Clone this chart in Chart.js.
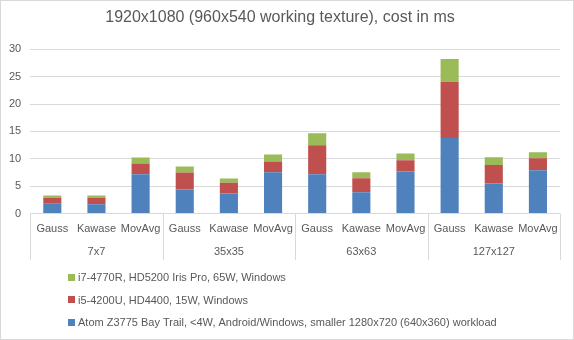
<!DOCTYPE html>
<html>
<head>
<meta charset="utf-8">
<script src="https://cdn.jsdelivr.net/npm/chart.js@4/dist/chart.umd.min.js"></script>
<style>
body { margin: 0; background: #fff; }
#wrap { width: 574px; height: 340px; position: relative; }
</style>
</head>
<body>
<div id="wrap"><canvas id="costChart"></canvas></div>
<script>
// values, ms per frame
const methods = ['Gauss', 'Kawase', 'MovAvg'];
const kernels = ['7x7', '35x35', '63x63', '127x127'];
const atomMs = [1.8, 1.7, 7.2, 4.4, 3.65, 7.55, 7.2, 3.9, 7.7, 13.8, 5.5, 7.9];
const i5Ms = [1.1, 1.2, 1.95, 3.1, 2.0, 1.95, 5.25, 2.55, 2.05, 10.25, 3.35, 2.2];
const i7Ms = [0.4, 0.4, 1.1, 1.1, 0.75, 1.3, 2.2, 1.1, 1.2, 4.15, 1.45, 1.1];
const seriesNames = [
    'Atom Z3775 Bay Trail, <4W, Android/Windows, smaller 1280x720 (640x360) workload',
    'i5-4200U, HD4400, 15W, Windows',
    'i7-4770R, HD5200 Iris Pro, 65W, Windows'
];
const yMax = 30;
const yStep = 5;

const GREY = '#595959';
const GRID = '#d9d9d9';
const FONT = 'Liberation Sans, Arial, sans-serif';

var labels = [];
kernels.forEach(function(k) {
    methods.forEach(function(m) { labels.push(m); });
});

// frame, group separators and the vertical legend
const decor = {
    id: 'decor',
    beforeDraw(chart) {
        const c = chart.ctx;
        c.save();
        c.fillStyle = '#fff';
        c.fillRect(0, 0, chart.width, chart.height);
        c.strokeStyle = GRID;
        c.lineWidth = 1;
        c.strokeRect(0.5, 0.5, chart.width - 1, chart.height - 1);
        c.restore();
    },
    afterDraw(chart) {
        const c = chart.ctx;
        const x = chart.scales.x;
        const x2 = chart.scales.x2;
        c.save();
        c.strokeStyle = GRID;
        c.lineWidth = 1;
        for (let k = 0; k <= kernels.length; k++) {
            var px;
            if (k == 0) px = x.left;
            else if (k == kernels.length) px = x.right;
            else px = (x.getPixelForTick(k * 3 - 1) + x.getPixelForTick(k * 3)) / 2;
            px = Math.round(px) + 0.5;
            c.beginPath();
            c.moveTo(px, chart.chartArea.bottom);
            c.lineTo(px, x2.bottom);
            c.stroke();
        }
        // legend, reversed like Excel
        c.font = '11px ' + FONT;
        c.textBaseline = 'middle';
        const sets = chart.data.datasets.slice().reverse();
        sets.forEach(function(ds, i) {
            const y = x2.bottom + 18 + i * 22.5;
            c.fillStyle = ds.backgroundColor;
            c.fillRect(68, Math.round(y) - 4, 7, 7);
            c.fillStyle = GREY;
            c.fillText(ds.label, 78, y);
        });
        c.restore();
    }
};

const ctx = document.getElementById('costChart').getContext('2d');
const chart = new Chart(ctx, {
    type: 'bar',
    data: {
        labels: labels,
        datasets: [
            { label: seriesNames[0], data: atomMs, backgroundColor: '#4f81bd' },
            { label: seriesNames[1], data: i5Ms, backgroundColor: '#c0504d' },
            { label: seriesNames[2], data: i7Ms, backgroundColor: '#9bbb59' }
        ]
    },
    options: {
        responsive: true,
        maintainAspectRatio: false,
        animation: false,
        devicePixelRatio: 1,
        datasets: { bar: { categoryPercentage: 1, barPercentage: 0.41 } },
        layout: { padding: { left: 0, right: 14, top: 0, bottom: 80 } },
        plugins: {
            legend: { display: false },
            tooltip: { enabled: false },
            title: {
                display: true,
                text: '1920x1080 (960x540 working texture), cost in ms',
                color: GREY,
                font: { family: FONT, size: 16, weight: 'normal' },
                padding: { top: 8, bottom: 22 }
            }
        },
        scales: {
            x: {
                stacked: true,
                grid: { display: false, drawTicks: false },
                border: { display: false },
                ticks: { color: GREY, font: { family: FONT, size: 11 }, padding: 9, maxRotation: 0, autoSkip: false }
            },
            x2: {
                type: 'category',
                labels: kernels,
                position: 'bottom',
                grid: { display: false, drawTicks: false },
                border: { display: false },
                ticks: { color: GREY, font: { family: FONT, size: 11 }, padding: 1 }
            },
            y: {
                stacked: true,
                min: 0,
                max: yMax,
                grid: { color: GRID, drawTicks: false },
                border: { display: false },
                ticks: { stepSize: yStep, color: GREY, font: { family: FONT, size: 11 }, padding: 9 }
            }
        }
    },
    plugins: [decor]
});
</script>
</body>
</html>
